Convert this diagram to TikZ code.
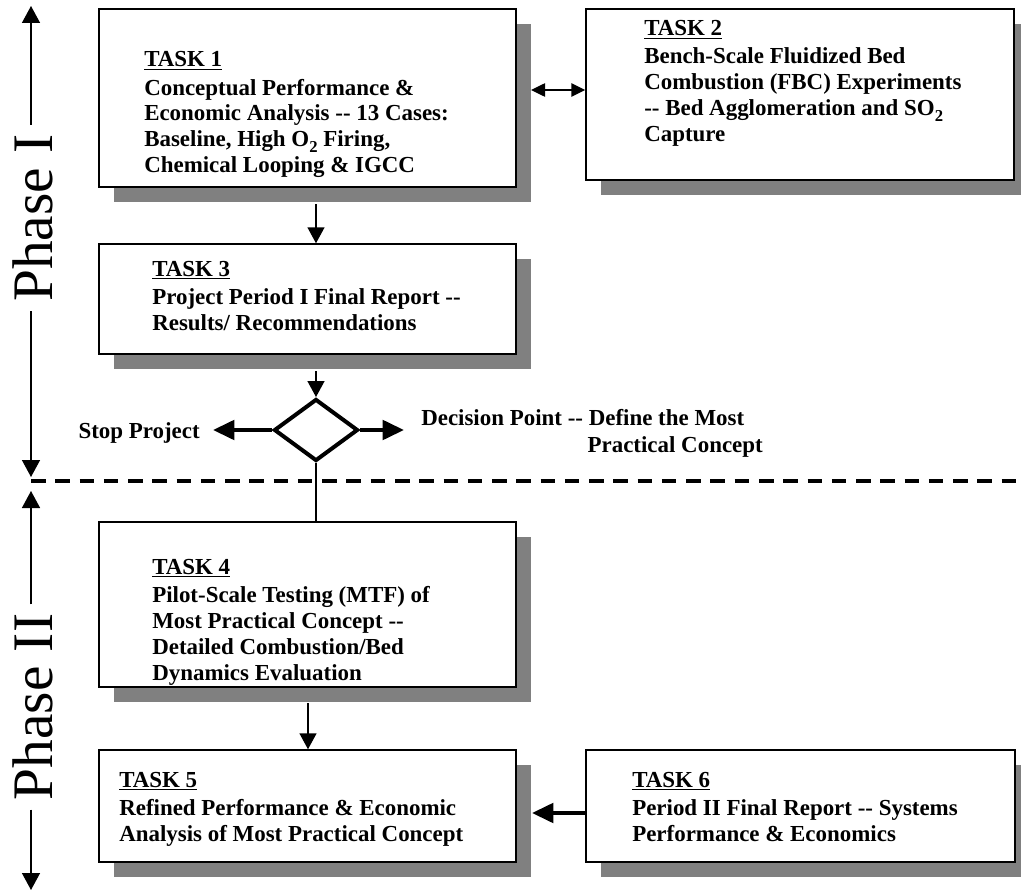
\documentclass[tikz,border=0pt]{standalone}
\usepackage{fontspec}
\setmainfont{Liberation Serif}
\usetikzlibrary{arrows.meta,shapes.geometric,shadows}
\definecolor{shadowgray}{HTML}{808080}
% underlined task heading
\newcommand{\tasktitle}[1]{\setbox0\hbox{#1}\rlap{\rule[-2.6pt]{\wd0}{1.1pt}}\box0}
% left-aligned block whose reference point is the first baseline
\newcommand{\textlines}[1]{\begin{tabular}[t]{@{}l@{}}#1\end{tabular}}
% two plain hyphens
\newcommand{\dbldash}{-{}-}
% chemical subscript two
\newcommand{\subtwo}{\raisebox{-4pt}{\fontsize{12.5}{12.5}\selectfont 2}}
\begin{document}
\begin{tikzpicture}[x=0.75pt,y=-0.75pt,
  taskbox/.style 2 args={draw=black, line width=1.1pt, fill=white, inner sep=0pt,
    minimum width=#1*0.75pt, minimum height=#2*0.75pt,
    drop shadow={shadow xshift=11.4pt, shadow yshift=-11.4pt, fill=shadowgray, opacity=1}},
  tasktext/.style={inner sep=0pt, anchor=base west,
    font=\bfseries\fontsize{17.2}{19.5}\selectfont},
  phaselabel/.style={rotate=90, inner sep=7pt, font=\fontsize{43}{43}\selectfont},
  phasearrow/.style={line width=1.1pt, -{Triangle[length=12.75pt,width=13.5pt]}},
  thinarrow/.style={line width=1.1pt, -{Triangle[length=12pt,width=12.75pt]}},
  bothway/.style={line width=1.1pt, {Triangle[length=10.5pt,width=10pt]}-{Triangle[length=10.5pt,width=10pt]}},
  thickarrow/.style={line width=3pt, -{Triangle[length=16pt,width=14.5pt]}},
  plainline/.style={line width=1.1pt},
  phasesplit/.style={line width=2.6pt, dash pattern=on 10.9pt off 7.3pt},
  decision/.style={draw=black, line width=3pt, fill=white, shape=diamond, inner sep=0pt,
    minimum width=84*0.75pt, minimum height=62*0.75pt}
]
\useasboundingbox (0,0) rectangle (1021,892);

% ---------- phase markers ----------
\coordinate (p1top) at (31,6);
\coordinate (p1bot) at (31,477);
\coordinate (p2top) at (31,491);
\coordinate (p2bot) at (31,890);
\node[phaselabel] (phase1) at (33,218) {Phase I};
\node[phaselabel] (phase2) at (33,707) {Phase II};
\draw[phasearrow] (phase1.east -| p1top) -- (p1top);
\draw[phasearrow] (phase1.west -| p1bot) -- (p1bot);
\draw[phasearrow] (phase2.east -| p2top) -- (p2top);
\draw[phasearrow] (phase2.west -| p2bot) -- (p2bot);

\coordinate (splitL) at (31,481);
\coordinate (splitR) at (1021,481);
\draw[phasesplit] (splitL) -- (splitR);

% ---------- task boxes ----------
\node[taskbox={417}{178}] (t1) at (307.5,98) {};
\node[taskbox={428}{171}] (t2) at (800,94.5) {};
\node[taskbox={417}{110}] (t3) at (307.5,299) {};
\node[taskbox={417}{165}] (t4) at (307.5,604.5) {};
\node[taskbox={417}{112}] (t5) at (307.5,806) {};
\node[taskbox={429}{112}] (t6) at (800.5,806) {};

\node[tasktext] (t1text) at (144,67) {\textlines{\tasktitle{TASK 1}\\[1.5pt]
  Conceptual Performance \&\\
  Economic Analysis \dbldash{} 13 Cases:\\
  Baseline, High O\subtwo{} Firing,\\
  Chemical Looping \& IGCC}};
\node[tasktext] (t2text) at (644,36) {\textlines{\tasktitle{TASK 2}\\[1.5pt]
  Bench-Scale Fluidized Bed\\
  Combustion (FBC) Experiments\\
  \dbldash{} Bed Agglomeration and SO\subtwo\\
  Capture}};
\node[tasktext] (t3text) at (152,276) {\textlines{\tasktitle{TASK 3}\\[1.5pt]
  Project Period I Final Report \dbldash\\
  Results/ Recommendations}};
\node[tasktext] (t4text) at (152,574) {\textlines{\tasktitle{TASK 4}\\[1.5pt]
  Pilot-Scale Testing (MTF) of\\
  Most Practical Concept \dbldash\\
  Detailed Combustion/Bed\\
  Dynamics Evaluation}};
\node[tasktext] (t5text) at (119,787) {\textlines{\tasktitle{TASK 5}\\[1.5pt]
  Refined Performance \& Economic\\
  Analysis of Most Practical Concept}};
\node[tasktext] (t6text) at (632,787) {\textlines{\tasktitle{TASK 6}\\[1.5pt]
  Period II Final Report \dbldash{} Systems\\
  Performance \& Economics}};

% ---------- decision point ----------
\node[decision] (dp) at (316,430) {};
\coordinate (stoptip) at (213,430);
\coordinate (gotip) at (404,430);
\draw[thickarrow] (dp.west) -- (stoptip);
\draw[thickarrow] (dp.east) -- (gotip);
\node[tasktext, anchor=base east] (stop) at (200,438) {Stop Project};
\node[tasktext] (dptext) at (421,425) {Decision Point \dbldash{} Define the Most};
\node[tasktext, anchor=base east] (dptext2) at (763,452) {Practical Concept};

% ---------- connectors ----------
\coordinate (dbl) at (531,90);
\draw[bothway] (dbl) -- (t2.west |- dbl);

\coordinate (from1) at (316,204);
\draw[thinarrow] (from1) -- (from1 |- t3.north);
\coordinate (from3) at (316,371);
\draw[thinarrow] (from3) -- (dp.north);
\draw[plainline] (dp.south) -- (dp.south |- t4.north);
\coordinate (from4) at (308,703);
\draw[thinarrow] (from4) -- (from4 |- t5.north);
\coordinate (into5) at (532,813);
\draw[thickarrow] (t6.west |- into5) -- (into5);
\end{tikzpicture}
\end{document}
